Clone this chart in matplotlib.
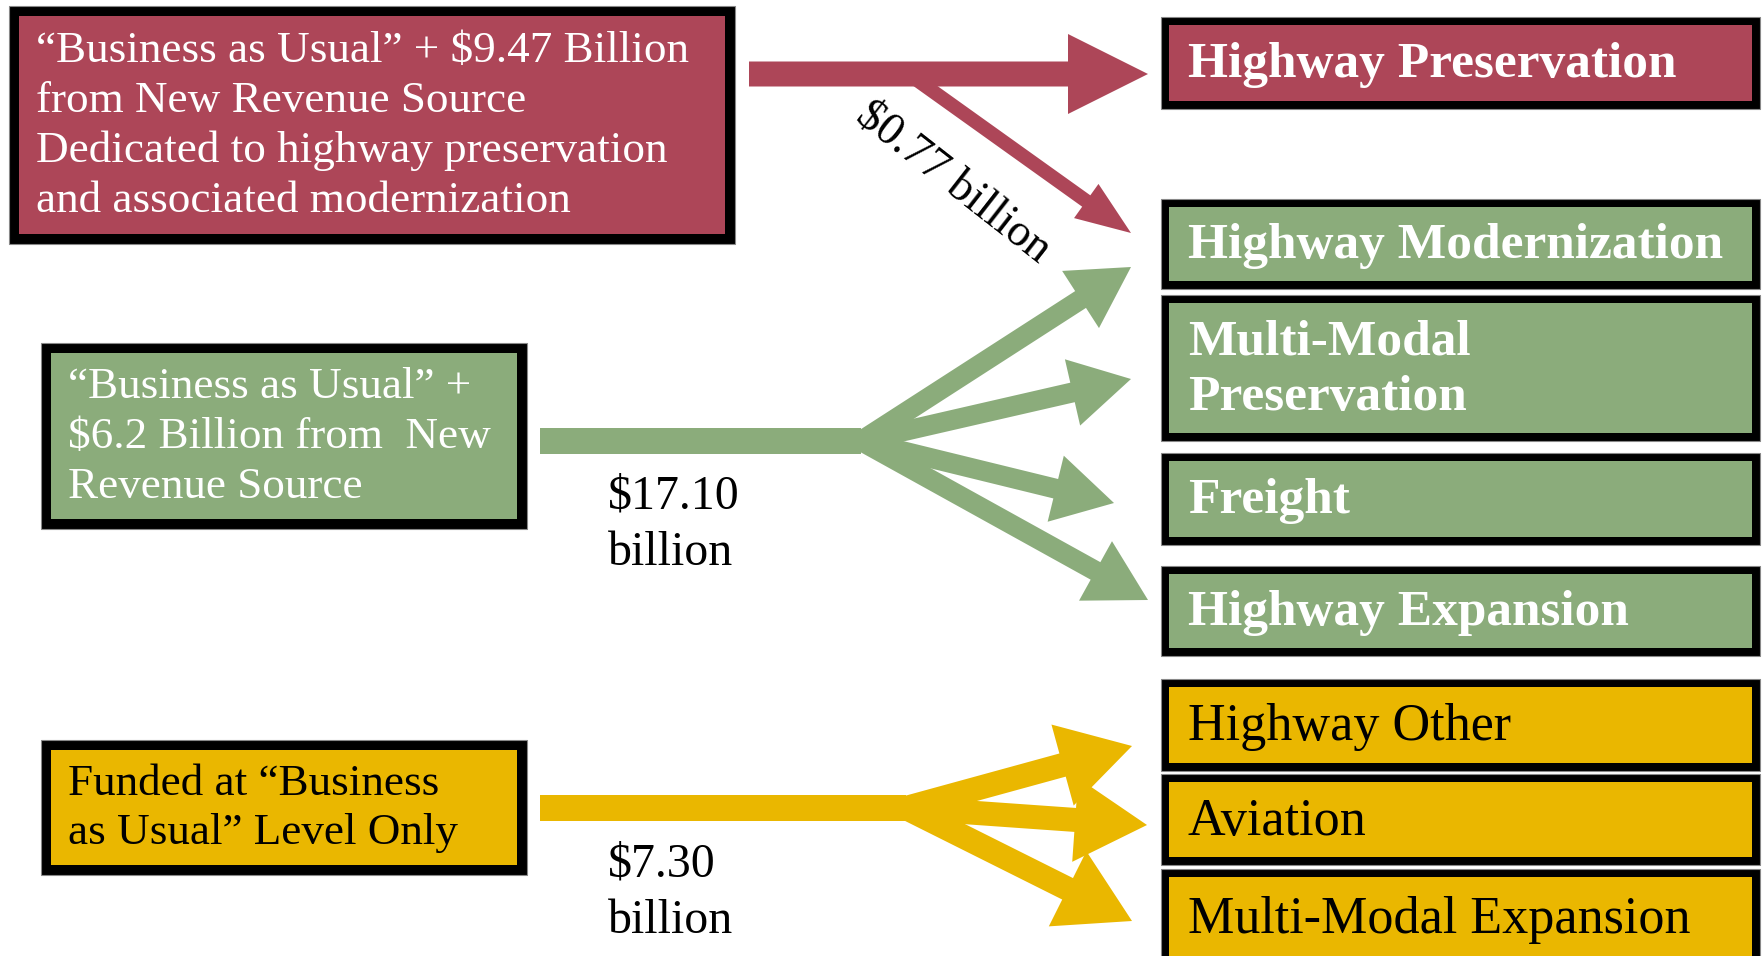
import matplotlib.pyplot as plt
from matplotlib.patches import Rectangle, FancyArrow

# Textos e valores do diagrama
fontes = [
    "\u201cBusiness as Usual\u201d + $9.47 Billion\nfrom New Revenue Source\nDedicated to highway preservation\nand associated modernization",
    "\u201cBusiness as Usual\u201d +\n$6.2 Billion from  New\nRevenue Source",
    "Funded at \u201cBusiness\nas Usual\u201d Level Only",
]
valores = ["$0.77 billion", "$17.10\nbillion", "$7.30\nbillion"]
destinos_vermelho = ["Highway Preservation"]
destinos_verde = ["Highway Modernization", "Multi-Modal\nPreservation", "Freight", "Highway Expansion"]
destinos_amarelo = ["Highway Other", "Aviation", "Multi-Modal Expansion"]

VERMELHO = '#AD4658'
VERDE = '#8BAC7B'
AMARELO = '#EAB700'
FONTE = 'Liberation Serif'

fig = plt.figure(figsize=(17.65, 9.56), dpi=100)
ax = fig.add_axes([0, 0, 1, 1])
ax.set_xlim(0, 1765)
ax.set_ylim(956, 0)
ax.axis('off')


def caixa(x0, y0, x1, y1, cor, borda=9):
    # Moldura preta grossa com preenchimento colorido
    ax.add_patch(Rectangle((x0, y0), x1 - x0, y1 - y0, facecolor='black',
                           edgecolor='#888888', linewidth=0.8))
    ax.add_patch(Rectangle((x0 + borda, y0 + borda), x1 - x0 - 2 * borda,
                           y1 - y0 - 2 * borda, facecolor=cor, edgecolor='none'))


def seta(x, y, xf, yf, largura, cabeca_l, cabeca_c, cor):
    ax.add_patch(FancyArrow(x, y, xf - x, yf - y, width=largura,
                            head_width=cabeca_l, head_length=cabeca_c,
                            length_includes_head=True, color=cor, linewidth=0))


# Caixas da esquerda
caixas_esq = [(9, 6, 735, 244, VERMELHO, 'white', 36),
              (41, 343, 527, 529, VERDE, 'white', 68),
              (41, 740, 527, 875, AMARELO, 'black', 68)]
for (x0, y0, x1, y1, cor, cor_txt, xt), txt in zip(caixas_esq, fontes):
    caixa(x0, y0, x1, y1, cor, borda=10)
    ax.text(xt, (y0 + y1) / 2 + 1, txt, color=cor_txt, fontsize=32.5, family=FONTE,
            ha='left', va='center', linespacing=1.32)

# Caixas da direita
x0d, x1d = 1161, 1760
ydir_vermelho = [(17, 109)]
ydir_verde = [(199, 289), (295, 441), (453, 545), (566, 656)]
ydir_amarelo = [(679, 771), (774, 865), (869, 966)]

for (y0, y1), txt in zip(ydir_vermelho, destinos_vermelho):
    caixa(x0d, y0, x1d, y1, VERMELHO, borda=8)
    ax.text(1188, (y0 + y1) / 2 + 2, txt, color='white', fontsize=37, family=FONTE,
            weight='bold', ha='left', va='center')
for (y0, y1), txt in zip(ydir_verde, destinos_verde):
    caixa(x0d, y0, x1d, y1, VERDE, borda=8)
    ax.text(1188, (y0 + y1) / 2 + 2, txt, color='white', fontsize=37, family=FONTE,
            weight='bold', ha='left', va='center', linespacing=1.27)
for (y0, y1), txt in zip(ydir_amarelo, destinos_amarelo):
    caixa(x0d, y0, x1d, y1, AMARELO, borda=8)
    ax.text(1188, (y0 + y1) / 2 + 2, txt, color='black', fontsize=37.5, family=FONTE,
            ha='left', va='center')

# Setas vermelhas
seta(749, 74, 1148, 74, 25, 80, 80, VERMELHO)
seta(917, 80, 1131, 233, 14, 42, 55, VERMELHO)
ax.text(953, 183, valores[0], fontsize=33, family=FONTE, rotation=-38,
        rotation_mode='anchor', ha='center', va='center')

# Setas verdes
ax.add_patch(Rectangle((540, 428), 861 - 540, 26, facecolor=VERDE, edgecolor='none'))
for xf, yf in [(1131, 267), (1131, 379), (1114, 503), (1148, 600)]:
    seta(861, 441, xf, yf, 20, 68, 60, VERDE)
ax.text(608, 525, valores[1], fontsize=34.5, family=FONTE, ha='left', va='center',
        linespacing=1.36)

# Setas amarelas
ax.add_patch(Rectangle((540, 795), 906 - 540, 26, facecolor=AMARELO, edgecolor='none'))
for xf, yf in [(1132, 746), (1147, 825), (1132, 921)]:
    seta(906, 808, xf, yf, 24, 84, 72, AMARELO)
ax.text(608, 893, valores[2], fontsize=34.5, family=FONTE, ha='left', va='center',
        linespacing=1.36)

plt.savefig('out.png', dpi=100)
